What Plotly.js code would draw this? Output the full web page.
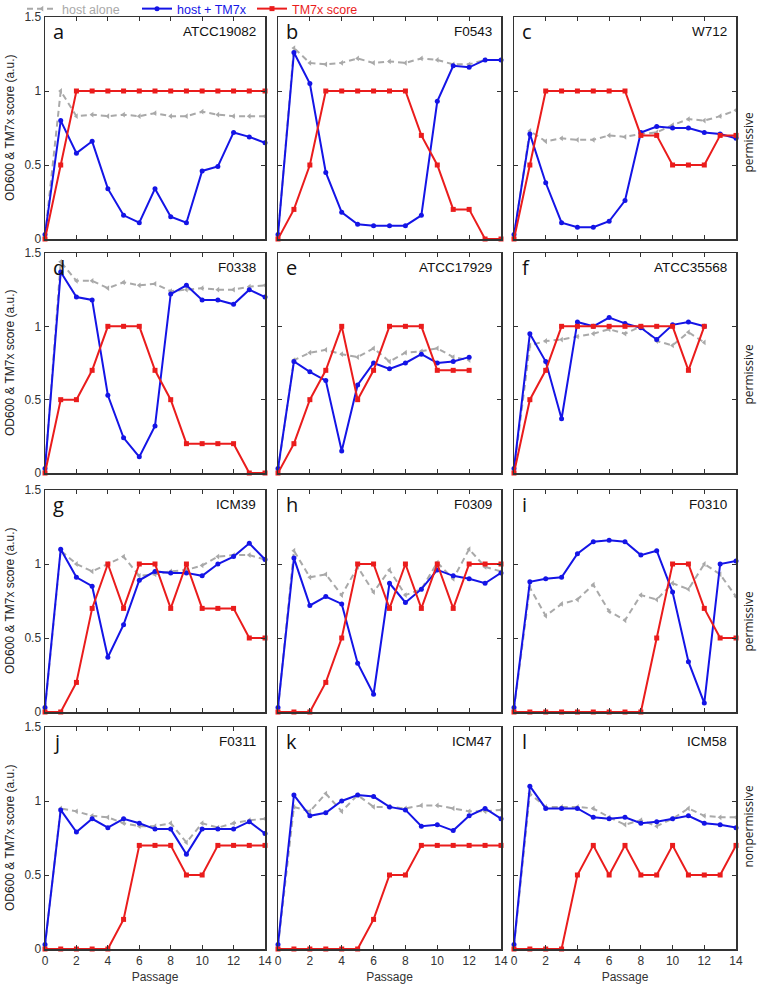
<!DOCTYPE html>
<html>
<head>
<meta charset="utf-8">
<script src="https://cdn.plot.ly/plotly-3.0.1.min.js"></script>
<style>html,body{margin:0;padding:0;background:#fff;}#chart{width:757px;height:985px;}</style>
</head>
<body>
<div id="chart"></div>
<script>
// ---------- data ----------
const passages = [0,1,2,3,4,5,6,7,8,9,10,11,12,13,14];
const panelLetters = ['a','b','c','d','e','f','g','h','i','j','k','l'];
const strainNames = ['ATCC19082','F0543','W712','F0338','ATCC17929','ATCC35568','ICM39','F0309','F0310','F0311','ICM47','ICM58'];
const rowLabels = ['permissive','permissive','permissive','nonpermissive'];
const seriesNames = ['host alone','host + TM7x','TM7x score'];
const xTickVals = [0,2,4,6,8,10,12,14];
const yTickVals = [0,0.5,1,1.5];
const yTickText = ['0','0.5','1','1.5'];

const host_a  = [0.02,1.00,0.83,0.84,0.83,0.84,0.83,0.85,0.83,0.83,0.86,0.84,0.83,0.83,0.83];
const tm7x_a  = [0.03,0.80,0.58,0.66,0.34,0.16,0.11,0.34,0.15,0.11,0.46,0.49,0.72,0.69,0.65];
const score_a = [0,0.5,1,1,1,1,1,1,1,1,1,1,1,1,1];

const host_b  = [0.02,1.29,1.19,1.18,1.19,1.22,1.19,1.20,1.19,1.22,1.21,1.18,1.18,1.21,1.21];
const tm7x_b  = [0.03,1.26,1.05,0.45,0.18,0.10,0.09,0.09,0.09,0.16,0.93,1.17,1.16,1.21,1.21];
const score_b = [0,0.2,0.5,1,1,1,1,1,1,0.7,0.5,0.2,0.2,0,0];

const host_c  = [0.02,0.73,0.66,0.68,0.67,0.67,0.70,0.69,0.71,0.72,0.77,0.81,0.80,0.83,0.87];
const tm7x_c  = [0.03,0.71,0.38,0.11,0.08,0.08,0.12,0.26,0.72,0.76,0.75,0.75,0.72,0.71,0.68];
const score_c = [0,0.5,1,1,1,1,1,1,0.7,0.7,0.5,0.5,0.5,0.7,0.7];

const host_d  = [0.02,1.44,1.31,1.31,1.26,1.30,1.28,1.29,1.24,1.25,1.26,1.25,1.25,1.27,1.28];
const tm7x_d  = [0.03,1.37,1.20,1.18,0.53,0.24,0.11,0.32,1.22,1.28,1.18,1.18,1.15,1.25,1.20];
const score_d = [0,0.5,0.5,0.7,1,1,1,0.7,0.5,0.2,0.2,0.2,0.2,0,0];

const host_e  = [0.02,0.77,0.82,0.84,0.81,0.79,0.85,0.76,0.82,0.83,0.85,0.79,0.77];
const tm7x_e  = [0.03,0.76,0.69,0.63,0.15,0.60,0.75,0.71,0.75,0.81,0.75,0.76,0.79];
const score_e = [0,0.2,0.5,0.7,1,0.5,0.7,1,1,1,0.7,0.7,0.7];

const host_f  = [0.02,0.87,0.90,0.91,0.93,0.95,0.98,0.95,1.00,0.90,0.87,0.96,0.89];
const tm7x_f  = [0.03,0.95,0.76,0.37,1.03,1.00,1.06,1.02,0.99,0.91,1.01,1.03,1.00];
const score_f = [0,0.5,0.7,1,1,1,1,1,1,1,1,0.7,1];

const host_g  = [0.02,1.09,1.00,0.95,1.00,1.05,0.92,0.93,0.95,0.96,0.99,1.05,1.06,1.06,1.03];
const tm7x_g  = [0.03,1.10,0.91,0.85,0.37,0.59,0.89,0.95,0.94,0.94,0.92,1.00,1.05,1.14,1.03];
const score_g = [0,0,0.2,0.7,1,0.7,1,1,0.7,1,0.7,0.7,0.7,0.5,0.5];

const host_h  = [0.02,1.09,0.91,0.93,0.79,0.98,0.81,0.96,0.79,0.83,1.01,0.90,1.10,0.98,0.95];
const tm7x_h  = [0.03,1.04,0.72,0.78,0.73,0.33,0.12,0.87,0.74,0.83,0.96,0.92,0.90,0.87,0.94];
const score_h = [0,0,0,0.2,0.5,1,1,0.7,1,0.7,1,0.7,1,1,1];

const host_i  = [0.02,0.84,0.65,0.73,0.76,0.86,0.68,0.62,0.79,0.76,0.87,0.83,1.00,0.93,0.78];
const tm7x_i  = [0.03,0.88,0.90,0.91,1.07,1.15,1.16,1.15,1.06,1.09,0.81,0.34,0.06,1.00,1.02];
const score_i = [0,0,0,0,0,0,0,0,0,0.5,1,1,0.7,0.5,0.5];

const host_j  = [0.02,0.95,0.93,0.90,0.89,0.85,0.83,0.83,0.85,0.72,0.85,0.82,0.85,0.87,0.88];
const tm7x_j  = [0.03,0.94,0.79,0.88,0.82,0.88,0.85,0.81,0.81,0.64,0.81,0.81,0.81,0.86,0.78];
const score_j = [0,0,0,0,0,0.2,0.7,0.7,0.7,0.5,0.5,0.7,0.7,0.7,0.7];

const host_k  = [0.02,0.96,0.93,1.05,0.93,1.04,0.96,0.96,0.95,0.97,0.97,0.95,0.93,0.93,0.94];
const tm7x_k  = [0.03,1.04,0.90,0.92,1.00,1.04,1.03,0.96,0.94,0.83,0.84,0.80,0.90,0.95,0.88];
const score_k = [0,0,0,0,0,0,0.2,0.5,0.5,0.7,0.7,0.7,0.7,0.7,0.7];

const host_l  = [0.02,1.05,0.96,0.96,0.96,0.95,0.89,0.84,0.87,0.83,0.88,0.95,0.90,0.89,0.89];
const tm7x_l  = [0.03,1.10,0.95,0.95,0.95,0.89,0.88,0.89,0.85,0.86,0.88,0.90,0.85,0.84,0.82];
const score_l = [0,0,0,0,0.5,0.7,0.5,0.7,0.5,0.5,0.7,0.5,0.5,0.5,0.7];

const hostSeries  = [host_a,host_b,host_c,host_d,host_e,host_f,host_g,host_h,host_i,host_j,host_k,host_l];
const tm7xSeries  = [tm7x_a,tm7x_b,tm7x_c,tm7x_d,tm7x_e,tm7x_f,tm7x_g,tm7x_h,tm7x_i,tm7x_j,tm7x_k,tm7x_l];
const scoreSeries = [score_a,score_b,score_c,score_d,score_e,score_f,score_g,score_h,score_i,score_j,score_k,score_l];

// ---------- layout geometry (pixels) ----------
const W = 757, H = 985;
const colPx = [[45,265],[278,501],[514,736]];
const rowPx = [[17,239],[253,473],[490,712],[727,949]];
const rowLabelY = [142,374,621,826];

const GRAY = '#a9a9a9', BLUE = '#1414e6', RED = '#ea1c1c', AXC = '#333333';
const SANS = 'Liberation Sans, Arial, sans-serif';
const HUMAN = 'Open Sans, DejaVu Sans, sans-serif';

const traces = [];
const layout = {
  width: W, height: H,
  margin: {l:0, r:0, t:0, b:0, autoexpand: false},
  paper_bgcolor: '#fff', plot_bgcolor: '#fff',
  font: {family: SANS, size: 11, color: AXC},
  showlegend: true,
  legend: {
    orientation: 'h', x: 22/W, y: 1 + 6/H, xanchor: 'left', yanchor: 'top',
    font: {family: SANS, size: 12.5}, itemwidth: 30,
    entrywidthmode: 'pixels', entrywidth: 70,
    bgcolor: 'rgba(0,0,0,0)', borderwidth: 0
  },
  annotations: []
};

for (let p = 0; p < 12; p++) {
  const r = Math.floor(p / 3), c = p % 3;
  const sfx = p === 0 ? '' : String(p + 1);
  const xa = 'x' + sfx, ya = 'y' + sfx;
  const n = hostSeries[p].length;
  const xs = passages.slice(0, n);
  const first = p === 0;
  traces.push({
    x: xs, y: hostSeries[p], xaxis: xa, yaxis: ya, type: 'scatter', mode: 'lines+markers',
    name: '<span style="color:' + GRAY + '">' + seriesNames[0] + '</span>',
    line: {color: GRAY, width: 2, dash: '6px,4px'},
    marker: {symbol: 'triangle-left', size: 5, color: GRAY},
    showlegend: first, cliponaxis: false, hoverinfo: 'skip'
  });
  traces.push({
    x: xs, y: tm7xSeries[p], xaxis: xa, yaxis: ya, type: 'scatter', mode: 'lines+markers',
    name: '<span style="color:' + BLUE + '">' + seriesNames[1] + '</span>',
    line: {color: BLUE, width: 2},
    marker: {symbol: 'circle', size: 5, color: BLUE},
    showlegend: first, cliponaxis: false, hoverinfo: 'skip'
  });
  traces.push({
    x: xs, y: scoreSeries[p], xaxis: xa, yaxis: ya, type: 'scatter', mode: 'lines+markers',
    name: '<span style="color:' + RED + '">' + seriesNames[2] + '</span>',
    line: {color: RED, width: 2},
    marker: {symbol: 'square', size: 5, color: RED},
    showlegend: first, cliponaxis: false, hoverinfo: 'skip'
  });

  const xKey = 'xaxis' + sfx, yKey = 'yaxis' + sfx;
  layout[xKey] = {
    domain: [colPx[c][0] / W, colPx[c][1] / W],
    anchor: ya, range: [0, 14], fixedrange: true,
    tickvals: xTickVals, ticks: 'inside', ticklen: 4, tickwidth: 1, tickcolor: AXC,
    showticklabels: r === 3, tickfont: {family: SANS, size: 12, color: AXC},
    showline: true, linecolor: AXC, linewidth: 1.5, mirror: 'ticks',
    showgrid: false, zeroline: false
  };
  if (r === 3) {
    layout[xKey].title = {text: 'Passage', font: {family: SANS, size: 12, color: AXC}, standoff: 5};
  }
  layout[yKey] = {
    domain: [1 - rowPx[r][1] / H, 1 - rowPx[r][0] / H],
    anchor: xa, range: [0, 1.5], fixedrange: true,
    tickvals: yTickVals, ticktext: yTickText, ticks: 'inside', ticklen: 4, tickwidth: 1, tickcolor: AXC,
    showticklabels: c === 0, tickfont: {family: SANS, size: 12, color: AXC},
    showline: true, linecolor: AXC, linewidth: 1.5, mirror: 'ticks',
    showgrid: false, zeroline: false
  };

  layout.annotations.push({
    xref: xa + ' domain', yref: ya + ' domain', x: 0.025, y: 1, xanchor: 'left', yanchor: 'top',
    yshift: 1, text: panelLetters[p], showarrow: false,
    font: {family: HUMAN, size: 20, color: '#111'}
  });
  layout.annotations.push({
    xref: xa + ' domain', yref: ya + ' domain', x: 0.97, y: 1, xanchor: 'right', yanchor: 'top',
    yshift: -5, text: strainNames[p], showarrow: false,
    font: {family: SANS, size: 13.5, color: '#111'}
  });
  if (c === 0) {
    layout.annotations.push({
      xref: 'paper', yref: 'paper', x: 10 / W, y: 1 - (rowPx[r][0] + rowPx[r][1]) / 2 / H,
      xanchor: 'center', yanchor: 'middle', textangle: -90, showarrow: false,
      text: 'OD600 &amp; TM7x score (a.u.)', font: {family: SANS, size: 12, color: '#222'}
    });
  }
  if (c === 2) {
    layout.annotations.push({
      xref: 'paper', yref: 'paper', x: 747.5 / W, y: 1 - rowLabelY[r] / H,
      xanchor: 'center', yanchor: 'middle', textangle: -90, showarrow: false,
      borderpad: 0,
      text: rowLabels[r], font: {family: HUMAN, size: 12, color: '#222'}
    });
  }
}

Plotly.newPlot('chart', traces, layout, {staticPlot: true, displayModeBar: false});
</script>
</body>
</html>
